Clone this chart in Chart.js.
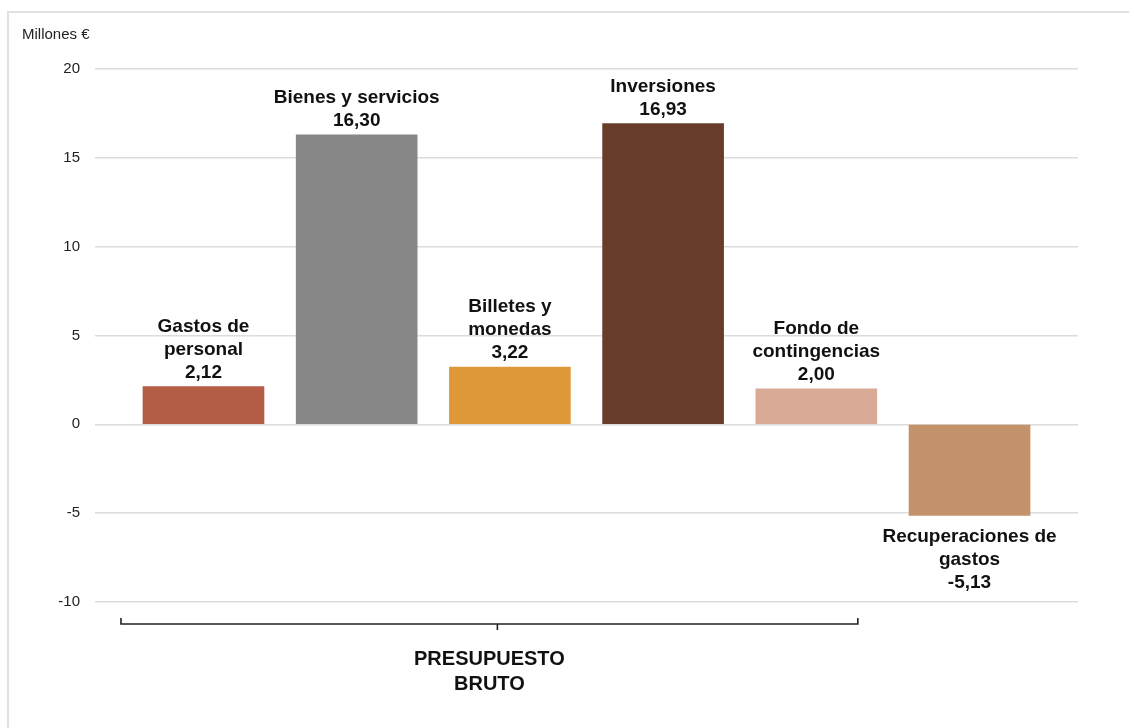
<!DOCTYPE html>
<html>
<head>
<meta charset="utf-8">
<script src="https://cdn.jsdelivr.net/npm/chart.js@4/dist/chart.umd.min.js"></script>
<style>
  html, body { margin: 0; padding: 0; background: #fff; }
  body { width: 1129px; height: 728px; position: relative; overflow: hidden; }
  #frame { position: absolute; left: 7px; top: 11px; width: 1200px; height: 800px;
           border-left: 2px solid #e0e0e0; border-top: 2px solid #e0e0e0; }
  #wrap { position: absolute; left: 0; top: 0; width: 1129px; height: 728px; }
</style>
</head>
<body>
<div id="frame"></div>
<div id="wrap"><canvas id="c"></canvas></div>
<script>
// ---- data ----
const categories = [
  ["Gastos de", "personal"],
  ["Bienes y servicios"],
  ["Billetes y", "monedas"],
  ["Inversiones"],
  ["Fondo de", "contingencias"],
  ["Recuperaciones de", "gastos"]
];
const values = [2.12, 16.30, 3.22, 16.93, 2.00, -5.13];
const barColors = ["#B35D47", "#878787", "#DF993B", "#673C28", "#D9AB97", "#C4926A"];
const yTicks = [-10, -5, 0, 5, 10, 15, 20];
const unitLabel = "Millones €";
const groupLabel = ["PRESUPUESTO", "BRUTO"];
const groupFrom = 0;
const groupTo = 4;

const FONT = "'Liberation Sans', Arial, Helvetica, sans-serif";
const fmt = v => v.toFixed(2).replace('.', ',');

const points = values.map((v, i) => ({ x: i, y: v }));

const annotations = {
  id: 'annotations',
  afterDatasetsDraw(chart) {
    const ctx = chart.ctx;
    const meta = chart.getDatasetMeta(0);
    ctx.save();
    ctx.fillStyle = '#111';
    ctx.font = 'bold 19px ' + FONT;
    ctx.textAlign = 'center';
    const lh = 23;
    meta.data.forEach((bar, i) => {
      const lines = categories[i].concat([fmt(values[i])]);
      if (values[i] >= 0) {
        ctx.textBaseline = 'alphabetic';
        const last = bar.y - 9;
        lines.forEach((t, k) => {
          ctx.fillText(t, bar.x, last - (lines.length - 1 - k) * lh);
        });
      } else {
        ctx.textBaseline = 'middle';
        const first = bar.y + 21;
        lines.forEach((t, k) => {
          ctx.fillText(t, bar.x, first + k * lh);
        });
      }
    });

    // unit label
    ctx.font = '15px ' + FONT;
    ctx.fillStyle = '#222';
    ctx.textAlign = 'left';
    ctx.textBaseline = 'middle';
    ctx.fillText(unitLabel, 22, 35);

    // group bracket
    const b0 = meta.data[groupFrom], b1 = meta.data[groupTo];
    const left = b0.x - b0.width / 2 - 22;
    const right = b1.x + b1.width / 2 - 19;
    const yb = chart.chartArea.bottom + 22;
    const mid = (left + right) / 2;
    ctx.strokeStyle = '#222';
    ctx.lineWidth = 1.6;
    ctx.beginPath();
    ctx.moveTo(left, yb - 6);
    ctx.lineTo(left, yb);
    ctx.lineTo(right, yb);
    ctx.lineTo(right, yb - 6);
    ctx.moveTo(mid + 8, yb);
    ctx.lineTo(mid + 8, yb + 6);
    ctx.stroke();

    ctx.fillStyle = '#111';
    ctx.font = 'bold 20px ' + FONT;
    ctx.textAlign = 'center';
    ctx.textBaseline = 'middle';
    groupLabel.forEach((t, k) => ctx.fillText(t, mid, yb + 35 + k * 25));
    ctx.restore();
  }
};

new Chart(document.getElementById('c'), {
  type: 'bar',
  data: {
    datasets: [{
      data: points,
      backgroundColor: barColors,
      borderWidth: 0,
      barThickness: 121
    }]
  },
  options: {
    responsive: true,
    maintainAspectRatio: false,
    animation: false,
    layout: { padding: { left: 0, right: 51, top: 69, bottom: 126 } },
    plugins: { legend: { display: false }, tooltip: { enabled: false } },
    scales: {
      x: {
        type: 'linear',
        min: -0.708,
        max: 5.708,
        offset: false,
        display: false
      },
      y: {
        min: -10,
        max: 20,
        afterFit(scale) { scale.width = 95; },
        afterBuildTicks(scale) { scale.ticks = yTicks.map(v => ({ value: v })); },
        border: { display: false },
        grid: { color: '#dcdcdc', lineWidth: 1.5, drawTicks: false },
        ticks: {
          padding: 15,
          color: '#222',
          font: { family: FONT, size: 15 },
          callback: v => String(v)
        }
      }
    }
  },
  plugins: [annotations]
});
</script>
</body>
</html>
